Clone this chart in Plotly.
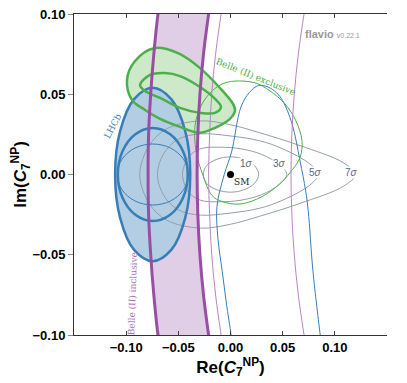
import plotly.graph_objects as go

# Belle (II) inclusive band, 1 sigma edges (thick) and outer contours (thin)
incl_y = [0.11, 0.1, 0.075, 0.05, 0.025, 0.0, -0.025, -0.05, -0.075, -0.1, -0.11]
incl_left_x = [-0.067, -0.0695, -0.0735, -0.0765, -0.0785, -0.079,
               -0.0785, -0.0765, -0.0735, -0.0695, -0.067]
incl_right_x = [-0.0188, -0.021, -0.0259, -0.0293, -0.0313, -0.032,
                -0.0313, -0.0293, -0.0259, -0.021, -0.0188]
incl_thin_a_x = [-0.0065, -0.009, -0.0143, -0.018, -0.020, -0.021,
                 -0.020, -0.018, -0.0143, -0.009, -0.0065]
incl_thin_b_x = [0.0731, 0.0705, 0.065, 0.0611, 0.0588, 0.058,
                 0.0588, 0.0611, 0.065, 0.0705, 0.0731]

# LHCb
lhcb_outer_x = [-0.0386, -0.0434, -0.0566, -0.0746, -0.0926, -0.1058, -0.1106,
                -0.1058, -0.0926, -0.0746, -0.0566, -0.0434, -0.0386]
lhcb_outer_y = [0.0, 0.027, 0.0468, 0.054, 0.0468, 0.027, 0.0,
                -0.027, -0.0468, -0.054, -0.0468, -0.027, 0.0]
lhcb_inner_x = [-0.041, -0.0455, -0.0578, -0.0745, -0.0912, -0.1035, -0.108,
                -0.1035, -0.0912, -0.0745, -0.0578, -0.0455, -0.041]
lhcb_inner_y = [0.0, 0.0145, 0.0251, 0.029, 0.0251, 0.0145, 0.0,
                -0.0145, -0.0251, -0.029, -0.0251, -0.0145, 0.0]
lhcb_thin_x = [-0.0405, -0.045, -0.0575, -0.0745, -0.0915, -0.104, -0.1085,
               -0.104, -0.0915, -0.0745, -0.0575, -0.045, -0.0405]
lhcb_thin_y = [0.0, 0.0095, 0.0165, 0.019, 0.0165, 0.0095, 0.0,
               -0.0095, -0.0165, -0.019, -0.0165, -0.0095, 0.0]
lhcb_wide_x = [0.001, 0.0005, -0.004, -0.008, -0.012, -0.013, -0.006, 0.001, 0.010,
               0.018, 0.027, 0.036, 0.044, 0.050, 0.059, 0.0666, 0.072, 0.0745,
               0.079, 0.086, 0.087]
lhcb_wide_y = [-0.105, -0.1, -0.08, -0.06, -0.04, -0.02, 0.0, 0.014, 0.042,
               0.051, 0.0555, 0.0545, 0.051, 0.046, 0.0315, 0.0086, -0.010, -0.0226,
               -0.06, -0.1, -0.105]

# Belle (II) exclusive
excl_outer_x = [-0.0733, -0.0503, -0.0292, -0.0101, 0.0024, 0.0043, -0.0005, -0.0148,
                -0.0292, -0.0484, -0.0675, -0.0819, -0.0944, -0.0992, -0.0915, -0.0733]
excl_outer_y = [0.0787, 0.0756, 0.0663, 0.0539, 0.0440, 0.0396, 0.0347, 0.0291,
                0.0260, 0.0297, 0.0347, 0.0402, 0.0464, 0.0589, 0.0707, 0.0787]
excl_inner_x = [-0.0867, -0.0771, -0.0627, -0.0484, -0.0292, -0.0148, -0.0091,
                -0.0148, -0.0292, -0.0484, -0.0675, -0.0819, -0.0867]
excl_inner_y = [0.0557, 0.0620, 0.0632, 0.0613, 0.0545, 0.0471, 0.0421,
                0.0384, 0.0384, 0.0415, 0.0477, 0.0520, 0.0557]
excl_thin_x = [0.0043, 0.0235, 0.0378, 0.0522, 0.0627, 0.0685, 0.0666, 0.0570, 0.0474,
               0.0302, 0.0091, -0.0081, -0.0177, -0.0263, -0.0331, -0.0340, -0.0292,
               -0.0196, -0.0081, 0.0043]
excl_thin_y = [0.0582, 0.0571, 0.0521, 0.0440, 0.0334, 0.0210, 0.0105, 0.0011, -0.0057,
               -0.0138, -0.0184, -0.0168, -0.0131, -0.0007, 0.0148, 0.0303, 0.0415,
               0.0508, 0.0564, 0.0582]

# pull contours around the SM
sigma_levels = ['1', '3', '5', '7']
pull_x = {
    '1': [0.027, 0.023, 0.013, 0.0, -0.013, -0.023, -0.026,
          -0.023, -0.013, 0.0, 0.013, 0.023, 0.027],
    '3': [0.054, 0.046, 0.030, 0.010, -0.010, -0.029, -0.040, -0.046,
          -0.040, -0.029, -0.010, 0.010, 0.030, 0.046, 0.054],
    '5': [0.084, 0.076, 0.050, 0.028, 0.0, -0.029, -0.050, -0.064, -0.070,
          -0.064, -0.050, -0.029, 0.0, 0.028, 0.050, 0.076, 0.084],
    '7': [0.120, 0.108, 0.0666, 0.028, 0.0, -0.029, -0.061, -0.078, -0.087,
          -0.078, -0.061, -0.029, 0.0, 0.028, 0.0666, 0.108, 0.120],
}
pull_y = {
    '1': [0.0, 0.0055, 0.0095, 0.011, 0.0095, 0.0055, 0.0,
          -0.0055, -0.0095, -0.011, -0.0095, -0.0055, 0.0],
    '3': [0.0, 0.0066, 0.0125, 0.016, 0.017, 0.016, 0.011, 0.0,
          -0.011, -0.016, -0.017, -0.016, -0.0125, -0.0066, 0.0],
    '5': [0.0, 0.0066, 0.016, 0.021, 0.024, 0.0253, 0.022, 0.013, 0.0,
          -0.013, -0.022, -0.0253, -0.024, -0.021, -0.016, -0.0066, 0.0],
    '7': [0.0, 0.0074, 0.018, 0.026, 0.031, 0.0334, 0.0285, 0.018, 0.0,
          -0.018, -0.0285, -0.0334, -0.031, -0.026, -0.018, -0.0074, 0.0],
}
sigma_label_x = [0.0158, 0.047, 0.081, 0.116]
sigma_label_y = [0.0067, 0.0066, 0.001, 0.001]

sm_point = (0.0, 0.0)

tick_vals = [-0.10, -0.05, 0.0, 0.05, 0.10]
tick_text = ['\u22120.10', '\u22120.05', '0.00', '0.05', '0.10']

PURPLE = '#984ea3'
GREEN = '#4daf4a'
BLUE = '#377eb8'
GRAY = '#959dad'


def line_trace(x, y, color, width, fill=None, fillcolor=None):
    return go.Scatter(x=x, y=y, mode='lines', line=dict(color=color, width=width, shape='spline', smoothing=1.0),
                      fill=fill, fillcolor=fillcolor, hoverinfo='skip', showlegend=False)


def create_c7_plot() -> go.Figure:
    fig = go.Figure()

    # filled 1 sigma regions (purple under green under blue)
    band_x = incl_left_x + incl_right_x[::-1]
    band_y = incl_y + incl_y[::-1]
    fig.add_trace(go.Scatter(x=band_x, y=band_y, mode='lines', line=dict(width=0),
                             fill='toself', fillcolor='#e0cde6',
                             hoverinfo='skip', showlegend=False))
    fig.add_trace(line_trace(excl_outer_x, excl_outer_y, 'rgba(0,0,0,0)', 0,
                             fill='toself', fillcolor='#cde9c9'))
    fig.add_trace(line_trace(lhcb_outer_x, lhcb_outer_y, 'rgba(0,0,0,0)', 0,
                             fill='toself', fillcolor='#b3cde3'))

    # pull contours
    for lvl in sigma_levels:
        fig.add_trace(line_trace(pull_x[lvl], pull_y[lvl], GRAY, 1))

    # thin contours
    fig.add_trace(line_trace(lhcb_thin_x, lhcb_thin_y, BLUE, 1))
    fig.add_trace(line_trace(lhcb_wide_x, lhcb_wide_y, BLUE, 1))
    fig.add_trace(line_trace(excl_thin_x, excl_thin_y, GREEN, 1))
    fig.add_trace(line_trace(incl_thin_a_x, incl_y, '#b884c4', 1))
    fig.add_trace(line_trace(incl_thin_b_x, incl_y, '#b884c4', 1))

    # thick contours
    fig.add_trace(line_trace(lhcb_outer_x, lhcb_outer_y, BLUE, 2.5))
    fig.add_trace(line_trace(lhcb_inner_x, lhcb_inner_y, BLUE, 2.5))
    fig.add_trace(line_trace(excl_outer_x, excl_outer_y, GREEN, 2.5))
    fig.add_trace(line_trace(excl_inner_x, excl_inner_y, GREEN, 2.5))
    fig.add_trace(line_trace(incl_left_x, incl_y, PURPLE, 3))
    fig.add_trace(line_trace(incl_right_x, incl_y, PURPLE, 3))

    # SM point
    fig.add_trace(go.Scatter(x=[sm_point[0]], y=[sm_point[1]], mode='markers',
                             marker=dict(color='black', size=7), hoverinfo='skip', showlegend=False))

    serif = 'DejaVu Serif'
    for lvl, lx, ly in zip(sigma_levels, sigma_label_x, sigma_label_y):
        fig.add_annotation(x=lx, y=ly, text=f'{lvl}<i>\u03c3</i>', showarrow=False,
                           font=dict(family='Liberation Sans', size=10, color='#5d6880'),
                           bgcolor='white', borderpad=0)

    fig.add_annotation(x=0.0105, y=-0.0045, text='SM', showarrow=False,
                       font=dict(family=serif, size=9, color='#222222'))
    fig.add_annotation(x=0.0244, y=0.0605, text='Belle (II) exclusive', showarrow=False, textangle=22,
                       font=dict(family=serif, size=9, color=GREEN))
    fig.add_annotation(x=-0.1125, y=0.030, text='LHCb', showarrow=False, textangle=-62,
                       font=dict(family=serif, size=9, color=BLUE))
    fig.add_annotation(x=-0.0935, y=-0.074, text='Belle (II) inclusive', showarrow=False, textangle=-88,
                       font=dict(family=serif, size=9, color='#a872b5'))
    fig.add_annotation(x=0.0695, y=0.0876, xanchor='left', showarrow=False,
                       text="<b>flavio</b> <span style='font-size:7px'>v0.22.1</span>",
                       font=dict(family='Liberation Sans', size=11, color='#9a9a9a'))

    axis_font = dict(family='Liberation Sans', size=13, color='black')
    title_font = dict(family='Liberation Sans', size=17, color='black')
    fig.update_layout(
        width=407, height=383,
        margin=dict(l=66, r=28, t=6, b=56),
        plot_bgcolor='white', paper_bgcolor='white',
        showlegend=False,
        xaxis=dict(range=[-0.15, 0.15], tickvals=tick_vals, ticktext=[f'<b>{t}</b>' for t in tick_text],
                   ticks='inside', ticklen=4, tickcolor='#444', mirror='ticks',
                   showline=True, linecolor='#333', linewidth=1, showgrid=False, zeroline=False,
                   tickfont=axis_font, automargin=False, ticklabeloverflow='allow',
                   title=dict(text='<b>Re(<i>C</i><sub>7</sub><sup>NP</sup>)</b>', standoff=0,
                              font=title_font)),
        yaxis=dict(range=[-0.1, 0.1], tickvals=tick_vals, ticktext=[f'<b>{t}</b>' for t in tick_text],
                   ticks='outside', ticklen=5, tickcolor='#888',
                   showline=True, linecolor='#333', linewidth=1, showgrid=False, zeroline=False,
                   tickfont=axis_font, automargin=False, ticklabeloverflow='allow',
                   title=dict(text='<b>Im(<i>C</i><sub>7</sub><sup>NP</sup>)</b>', standoff=1,
                              font=title_font)),
        yaxis2=dict(range=[-0.1, 0.1], overlaying='y', tickvals=tick_vals, showticklabels=False,
                    ticks='inside', ticklen=4, tickcolor='#444', mirror='ticks',
                    showline=True, linecolor='#333', linewidth=1, showgrid=False, zeroline=False),
    )
    return fig


fig = create_c7_plot()
fig.write_html("out.html")
